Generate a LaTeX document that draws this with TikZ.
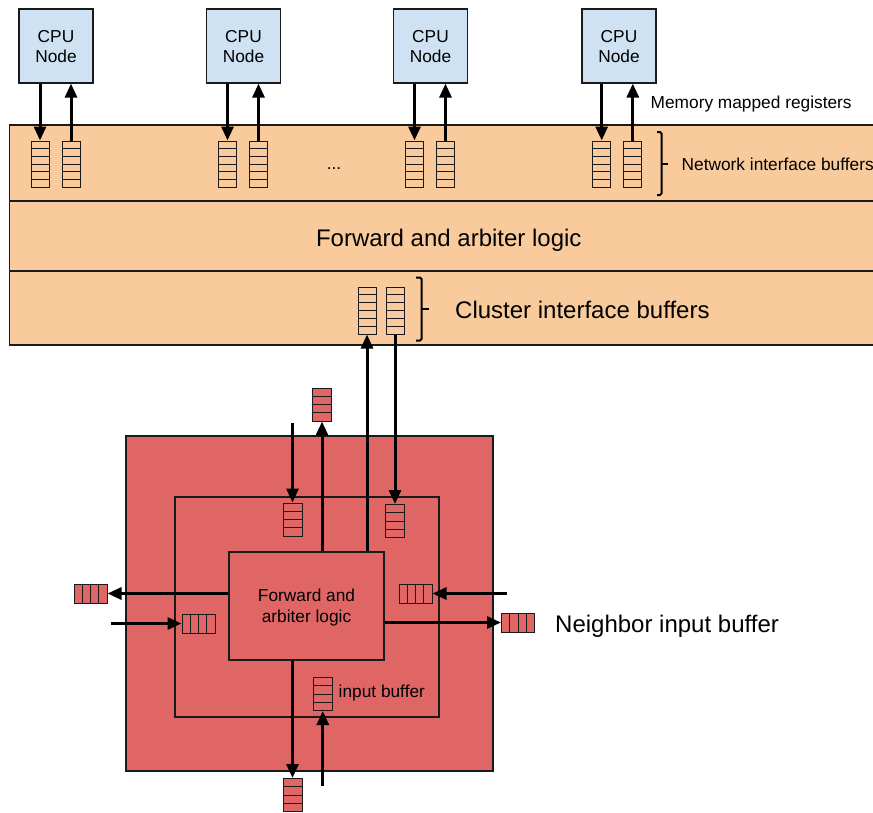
\documentclass[tikz,border=0pt]{standalone}
\usepackage{fontspec}
\setmainfont{Liberation Sans}
\usetikzlibrary{arrows.meta,calc}
\definecolor{cpublue}{HTML}{CFE2F3}
\definecolor{orangebg}{HTML}{F9CB9C}
\definecolor{redbg}{HTML}{E06666}
\definecolor{edge}{HTML}{1A1A1A}
\newcommand\fsmall{\fontsize{17.3pt}{20pt}\selectfont}
\newcommand\flogic{\fontsize{17.3pt}{21pt}\selectfont}
\newcommand\flarge{\fontsize{24pt}{28pt}\selectfont}
\tikzset{
  cpubox/.style={draw=edge, line width=1.2pt, fill=cpublue, minimum width=74pt, minimum height=74pt, inner sep=0pt},
  boxtext/.style={align=center, inner sep=0pt},
  bufbase/.style={draw=edge, line width=1pt, inner sep=0pt},
  vcells/.style={path picture={
      \foreach \i [evaluate=\i as \f using \i/(#1+1)] in {1,...,#1}{
        \draw[edge, line width=1pt] ($(path picture bounding box.south west)!\f!(path picture bounding box.north west)$) -- ($(path picture bounding box.south east)!\f!(path picture bounding box.north east)$);}}},
  hcells/.style={path picture={
      \foreach \i [evaluate=\i as \f using \i/(#1+1)] in {1,...,#1}{
        \draw[edge, line width=1pt] ($(path picture bounding box.south west)!\f!(path picture bounding box.south east)$) -- ($(path picture bounding box.north west)!\f!(path picture bounding box.north east)$);}}},
  topbuf/.style={bufbase, fill=orangebg, minimum width=18pt, minimum height=46pt, vcells=5},
  redvbuf/.style={bufbase, fill=redbg, minimum width=19pt, minimum height=33pt, vcells=3},
  redhbuf/.style={bufbase, fill=redbg, minimum width=33pt, minimum height=19pt, hcells=3},
  redbox/.style={draw=edge, line width=1.2pt, fill=redbg, inner sep=0pt},
  arr/.style={draw=black, line width=3pt, -{Triangle[length=14pt,width=12pt]}},
  brace/.style={draw=black, line width=2pt, rounded corners=1.5pt},
  lbl/.style={inner sep=0pt, anchor=base west, font=\fsmall},
  biglbl/.style={inner sep=0pt, anchor=base west, font=\flarge},
  bandline/.style={draw=edge, line width=1.2pt},
}
\begin{document}
\begin{tikzpicture}[x=1pt,y=-1pt]
\useasboundingbox (0,0) rectangle (873,812);
% cluster band
\fill[orangebg] (9.5,125) rectangle (874,345);
\draw[bandline] (874,125) -- (9.5,125) -- (9.5,345) -- (874,345);
\draw[bandline] (9.5,201) -- (874,201);
\draw[bandline] (9.5,271) -- (874,271);
% CPU nodes and network interface buffers
\foreach \n/\cx/\a/\b in {1/56/40/71, 2/243.5/227.5/258.5, 3/430.5/414.5/445.5, 4/619/601.7/632.8}{
  \node[cpubox] (cpu\n) at (\cx,46) {};
  \node[boxtext, font=\fsmall, yshift=-1pt] (cpu\n t) at (cpu\n.center) {CPU\\Node};
  \node[topbuf] (b\n a) at (\a,164) {};
  \node[topbuf] (b\n b) at (\b,164) {};
  \draw[arr] (cpu\n.south -| b\n a) -- (b\n a.north);
  \draw[arr] (b\n b.north) -- (cpu\n.south -| b\n b);
}
\node[lbl, anchor=base] (dots) at (334,169) {...};
\node[lbl] (mmr) at (650.5,108.3) {Memory mapped registers};
\node[lbl] (nib) at (681.5,170) {Network interface buffers};
\draw[brace] (657,132) -- (661.5,132) -- (661.5,195) -- (657,195);
\draw[brace] (661.5,163.5) -- (667.5,163.5);
\node[biglbl, anchor=base] (fal) at (448.8,246) {Forward and arbiter logic};
% cluster interface buffers
\node[topbuf, minimum height=47pt] (cb1) at (367,310.5) {};
\node[topbuf, minimum height=47pt] (cb2) at (395,310.5) {};
\draw[brace] (416,277.5) -- (421.5,277.5) -- (421.5,340.5) -- (416,340.5);
\draw[brace] (421.5,309) -- (429,309);
\node[biglbl] (cib) at (455,318.5) {Cluster interface buffers};
% router
\node[redbox, minimum width=367pt, minimum height=335pt] (outer) at (309.5,603.5) {};
\node[redbox, minimum width=264pt, minimum height=220pt] (inner) at (307,607) {};
\node[redbox, minimum width=155pt, minimum height=108pt] (logic) at (306.5,606) {};
\node[boxtext, font=\flogic, yshift=-1.7pt] (logict) at (logic.center) {Forward and\\arbiter logic};
\node[redvbuf] (obt) at (322,404.5) {};
\node[redvbuf] (ib1) at (292.5,519.5) {};
\node[redvbuf] (ib2) at (394.5,521) {};
\node[redhbuf] (obl) at (90.5,593.5) {};
\node[redhbuf] (ibl) at (198.5,623.5) {};
\node[redhbuf] (ibr) at (415.5,593.5) {};
\node[redhbuf] (obr) at (518,622.5) {};
\node[redvbuf] (obb) at (292.5,795) {};
\node[redvbuf] (ibb) at (322.8,694) {};
\coordinate (s1) at (292.5,423);
\coordinate (s2) at (111,623.5);
\coordinate (s3) at (507,593.5);
\coordinate (s4) at (322.8,786);
\draw[arr] (logic.north -| obt) -- (obt.south);
\draw[arr] (s1) -- (ib1.north);
\draw[arr] (logic.north -| cb1) -- (cb1.south);
\draw[arr] (cb2.south) -- (cb2.south |- ib2.north);
\draw[arr] (logic.west |- obl) -- (obl.east);
\draw[arr] (s2) -- (ibl.west);
\draw[arr] (s3) -- (ibr.east);
\draw[arr] (logic.east |- obr) -- (obr.west);
\draw[arr] (logic.south -| obb) -- (obb.north);
\draw[arr] (s4) -- (ibb.south);
\node[biglbl] (nbr) at (555,632) {Neighbor input buffer};
\node[lbl] (ibl2) at (338.5,697.7) {input buffer};
\end{tikzpicture}
\end{document}
